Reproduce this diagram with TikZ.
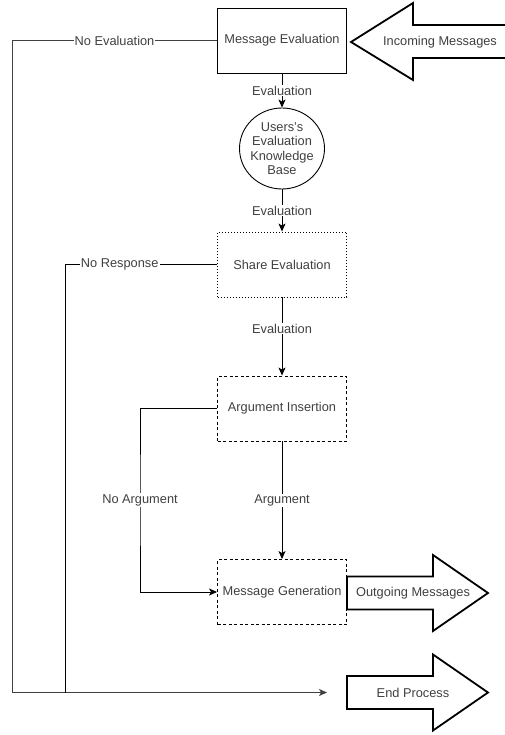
\documentclass[tikz,border=0pt]{standalone}
\usepackage{fontspec}
\setmainfont{Liberation Sans}
\usetikzlibrary{arrows.meta,shapes.geometric}
\definecolor{txtgray}{RGB}{64,64,64}
\tikzset{
  box/.style={draw,line width=.9pt,minimum width=129pt,minimum height=65pt,text=txtgray},
  lbl/.style={fill=white,inner sep=1pt,text=txtgray},
  flow/.style={line width=.9pt,-{Stealth[length=8pt,width=7pt,inset=2pt]}},
  fatarrow/.style={draw,line width=1.8pt,fill=white,line join=miter},
}

\begin{document}
\begin{tikzpicture}[x=1pt,y=-1pt,font=\fontsize{12.8}{14.5}\selectfont]
  \useasboundingbox (0,0) rectangle (504,735);
  \node[box] (meval) at (282,40.5) {Message Evaluation};
  \node[draw,line width=.9pt,ellipse,minimum width=85pt,minimum height=81pt,inner xsep=-4pt,inner ysep=-3pt,align=center,text=txtgray] (ukb) at (282,148.5) {Users's\\Evaluation\\Knowledge\\Base};
  \node[box,dash pattern=on 1pt off 2pt] (share) at (282,264.5) {Share Evaluation};
  \node[box,dash pattern=on 3pt off 2.5pt] (argins) at (282,408.5) {Argument Insertion};
  \node[box,dash pattern=on 3pt off 2.5pt] (mgen) at (282,592) {Message Generation};
  \coordinate (endin) at (327,692.5);

  \draw[flow] (meval) -- node[lbl]{Evaluation} (ukb);
  \draw[flow] (ukb) -- node[lbl]{Evaluation} (share);
  \draw[flow] (share) -- node[lbl,pos=.4]{Evaluation} (argins);
  \draw[flow] (argins) -- node[lbl]{Argument} (mgen);

  % side branches
  \draw[flow,black!75] (meval.west) -- node[lbl]{No Evaluation} (12,40.5) |- (endin);
  \draw[line width=.9pt] (share.west) -| node[lbl,pos=.32]{No Response} (65,692.5);
  \draw[flow] (argins.west) -| (140,500) node[lbl]{No Argument} |- (mgen.west);

  % big arrows
  \draw[fatarrow] (351,42) -- (413,3) -- (413,25) -- (508,25) -- (508,58) -- (413,58) -- (413,80) -- cycle;
  \node[text=txtgray] (inmsg) at (440,42) {Incoming Messages};
  \foreach \yc/\txt/\nm in {593/Outgoing Messages/outmsg,692.5/End Process/endp}{
    \draw[fatarrow] (347,\yc-16.5) -- (433,\yc-16.5) -- (433,\yc-38) -- (488,\yc) -- (433,\yc+38) -- (433,\yc+16.5) -- (347,\yc+16.5) -- cycle;
    \node[text=txtgray] (\nm) at (413,\yc) {\txt};
  }
\end{tikzpicture}
\end{document}
